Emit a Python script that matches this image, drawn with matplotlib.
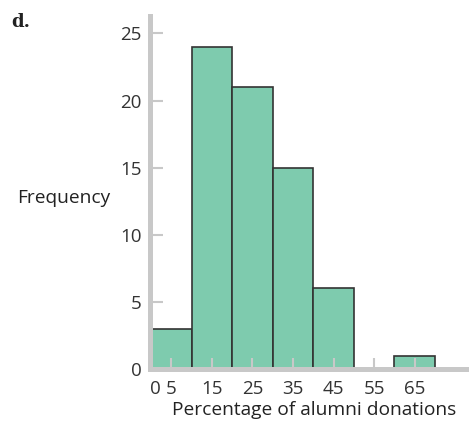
import matplotlib
matplotlib.use("Agg")
import matplotlib.pyplot as plt
import matplotlib.transforms as mtransforms

bin_edges = [0, 10, 20, 30, 40, 50, 60, 70]
frequencies = [3, 24, 21, 15, 6, 0, 1]
x_tick_labels = ["0", "5", "15", "25", "35", "45", "55", "65"]
x_label_pos = [0, 5, 15, 25, 35, 45, 55, 65]
y_ticks = [0, 5, 10, 15, 20, 25]

plt.rcParams['font.family'] = ['Open Sans', 'DejaVu Sans']

fig = plt.figure(figsize=(4.69, 4.21), dpi=100)
ax = fig.add_axes([149.8/469, 52/421, (469-149.8)/469, 353/421])

widths = [bin_edges[i+1]-bin_edges[i] for i in range(len(frequencies))]
ax.bar(bin_edges[:-1], frequencies, width=widths, align='edge',
       color='#7ECBAE', edgecolor='#333333', linewidth=1.2, zorder=1)

ax.set_xlim(-0.3, 78.4)
ax.set_ylim(0, 26.3)

gray = '#c8c8c8'
for s in ['top', 'right']:
    ax.spines[s].set_visible(False)
for s in ['left', 'bottom']:
    ax.spines[s].set_color(gray)
    ax.spines[s].set_linewidth(3.6)
    ax.spines[s].set_zorder(3)

ax.set_xticks(x_label_pos)
ax.set_xticklabels(x_tick_labels)
ax.xaxis.get_major_ticks()[0].tick1line.set_visible(False)
ax.set_yticks(y_ticks)

ax.tick_params(axis='x', direction='in', length=8, width=1.5, color=gray,
               labelsize=13.5, labelcolor='#333333', pad=8)
ax.tick_params(axis='y', direction='in', length=9, width=1.5, color=gray,
               labelsize=13.5, labelcolor='#333333', pad=6)

# nudge the "0" label slightly right, as in the reference
lbl0 = ax.get_xticklabels()[0]
lbl0.set_transform(lbl0.get_transform() +
                   mtransforms.ScaledTranslation(4/100, 0, fig.dpi_scale_trans))

ax.set_xlabel("Percentage of alumni donations", fontsize=13.8, color='#222222')
ax.xaxis.set_label_coords((314-149.8)/(469-149.8), -0.092)

fig.text(17/469, 1-198/421, "Frequency", fontsize=13.8, color='#222222',
         ha='left', va='center')
fig.text(11/469, 1-22/421, "d.", fontsize=13, fontweight='bold',
         family='DejaVu Serif', color='#222222', ha='left', va='center')

fig.savefig("out.png", dpi=100)
